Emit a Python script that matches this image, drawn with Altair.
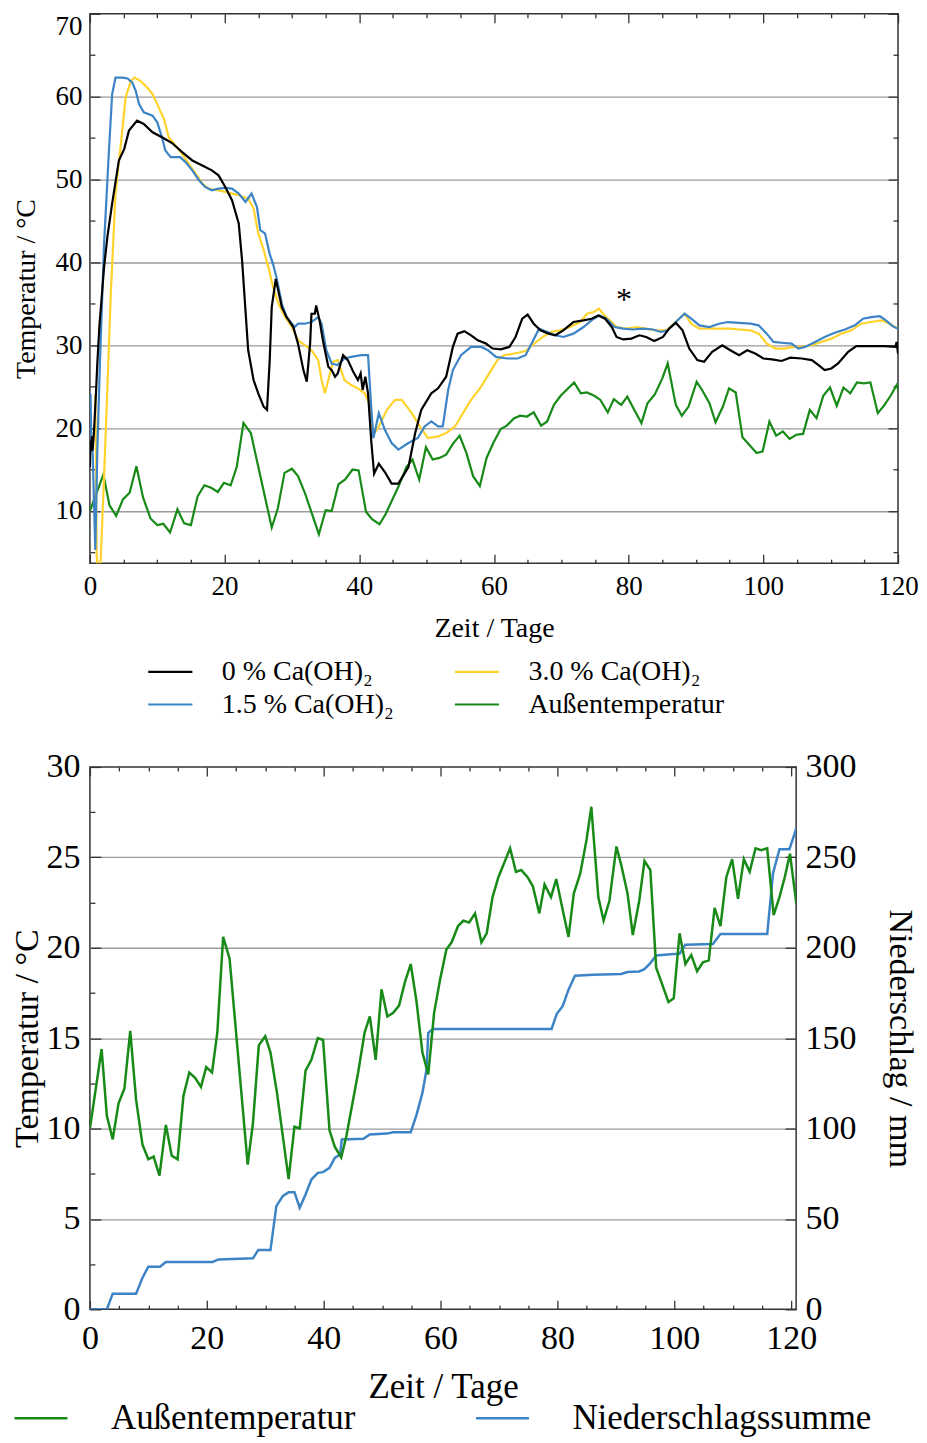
import altair as alt
import pandas as pd

FONT = "Liberation Serif"

# ---------------- data: top panel (temperatures in the piles) ----------------
k_day = [0.0, 0.1, 0.2, 0.3, 0.4, 0.6, 0.9, 1.1, 1.4, 2.1, 2.6, 3.3, 4.3, 5.1, 5.8, 7.0, 8.0, 9.3, 10.7, 12.2,
         13.7, 15.2, 16.7, 18.1, 19.1, 20.1, 21.1, 22.1, 22.6, 23.1, 23.5, 24.3, 25.0, 25.8, 26.3, 26.7, 27.0,
         27.6, 28.5, 29.2, 30.2, 30.9, 31.7, 32.2, 32.7, 32.9, 33.4, 33.6, 34.1, 34.6, 35.4, 35.9, 36.4, 36.8,
         37.6, 38.3, 39.1, 39.8, 40.2, 40.5, 40.9, 41.3, 41.8, 42.2, 42.9, 43.8, 44.8, 45.8, 47.3, 48.3, 49.2,
         50.7, 51.7, 52.9, 53.9, 54.6, 55.6, 56.6, 57.6, 58.8, 59.8, 61.0, 62.3, 63.2, 64.2, 65.0, 65.9, 66.9,
         68.1, 69.1, 70.3, 71.8, 73.3, 74.5, 75.5, 76.5, 77.5, 78.2, 79.2, 80.4, 81.6, 82.6, 83.8, 85.1, 86.0,
         87.0, 88.0, 89.0, 90.2, 91.2, 92.4, 93.9, 95.1, 96.4, 97.6, 98.8, 100.0, 101.3, 102.7, 104.0, 105.7,
         107.2, 108.2, 109.1, 110.1, 111.1, 112.6, 113.8, 115.0, 116.5, 118.0, 119.6, 119.8, 120.0]
k_val = [15.3, 18.5, 17.2, 19.0, 17.3, 19.5, 24.2, 27.8, 32.2, 39.4, 43.1, 47.1, 52.3, 53.7, 55.9, 57.1, 56.7,
         55.7, 55.1, 54.4, 53.3, 52.3, 51.7, 51.1, 50.5, 49.1, 47.5, 44.7, 40.2, 34.2, 29.4, 25.8, 24.2, 22.6,
         22.2, 28.2, 34.6, 38.0, 34.6, 33.4, 32.2, 30.2, 27.0, 25.6, 30.2, 33.8, 33.8, 34.8, 33.0, 30.6, 27.4,
         27.0, 26.2, 26.6, 28.8, 28.2, 26.8, 25.8, 26.6, 24.6, 26.2, 24.2, 18.2, 14.5, 15.7, 14.7, 13.3, 13.3,
         15.3, 19.4, 22.2, 24.2, 24.8, 26.2, 29.8, 31.4, 31.7, 31.2, 30.6, 30.2, 29.6, 29.5, 29.8, 31.0, 33.2,
         33.7, 32.6, 31.8, 31.4, 31.2, 31.8, 32.8, 33.0, 33.2, 33.6, 33.2, 32.2, 31.0, 30.7, 30.8, 31.2, 31.0,
         30.5, 31.0, 32.0, 32.7, 31.8, 29.6, 28.2, 28.0, 29.2, 30.0, 29.4, 28.8, 29.4, 29.0, 28.4, 28.3, 28.1,
         28.5, 28.4, 28.2, 27.6, 27.0, 27.2, 27.8, 29.2, 29.9, 29.9, 29.9, 29.9, 29.8, 30.4, 29.0]

b_day = [0.0, 0.1, 0.2, 0.4, 0.8, 1.1, 1.5, 2.1, 2.8, 3.3, 3.8, 4.8, 5.6, 6.3, 6.8, 7.3, 8.0, 9.3, 10.0, 10.7,
         11.2, 12.0, 13.4, 14.2, 15.2, 16.2, 17.1, 18.1, 19.1, 20.1, 21.1, 22.1, 23.1, 24.0, 24.8, 25.3, 26.0,
         26.7, 27.2, 27.7, 28.5, 29.2, 30.0, 30.4, 30.9, 31.9, 32.9, 33.9, 34.4, 35.1, 35.9, 36.8, 37.8, 38.8,
         40.3, 41.3, 41.8, 42.1, 42.9, 43.8, 44.8, 45.8, 47.3, 48.7, 49.7, 50.7, 51.7, 52.4, 53.2, 53.9, 55.1,
         56.6, 58.1, 59.1, 60.3, 62.0, 63.5, 64.7, 65.7, 66.7, 67.9, 69.1, 70.3, 71.8, 73.3, 74.8, 75.7, 76.7,
         77.9, 79.2, 80.6, 82.1, 83.6, 84.8, 85.8, 87.0, 88.3, 89.3, 90.5, 92.0, 93.4, 94.7, 96.4, 98.1, 99.3,
         100.5, 101.5, 102.7, 104.2, 105.2, 106.2, 107.7, 109.1, 110.6, 112.1, 113.6, 114.8, 116.0, 117.3,
         118.2, 119.2, 120.0]
b_val = [24.0, 24.0, 18.0, 17.3, 5.3, 17.3, 28.2, 42.2, 53.1, 60.3, 62.3, 62.3, 62.2, 61.7, 60.7, 59.1, 58.1,
         57.7, 56.9, 55.1, 53.5, 52.7, 52.7, 52.1, 51.1, 49.9, 49.1, 48.7, 48.9, 49.0, 48.9, 48.3, 47.3, 48.3,
         46.7, 43.9, 43.5, 41.0, 39.8, 38.2, 35.0, 33.4, 32.6, 32.2, 32.6, 32.6, 32.8, 33.4, 32.6, 29.4, 27.8,
         27.6, 28.4, 28.6, 28.8, 28.8, 22.2, 18.8, 21.8, 19.8, 18.2, 17.4, 18.2, 18.8, 20.2, 20.8, 20.2, 20.2,
         24.6, 27.0, 28.8, 29.8, 29.8, 29.4, 28.6, 28.4, 28.4, 28.8, 30.4, 32.0, 31.6, 31.2, 31.0, 31.4, 32.2,
         33.2, 33.6, 33.2, 32.2, 32.0, 31.9, 32.0, 31.9, 31.6, 31.8, 32.8, 33.8, 33.2, 32.4, 32.2, 32.6, 32.8,
         32.7, 32.6, 32.4, 31.4, 30.4, 30.3, 30.2, 29.6, 29.8, 30.4, 31.0, 31.5, 31.9, 32.4, 33.2, 33.4, 33.5,
         33.0, 32.3, 32.0]

y_day = [0.8, 0.9, 1.0, 1.2, 1.6, 2.1, 2.6, 3.1, 3.8, 4.6, 5.3, 6.1, 6.6, 7.5, 8.5, 9.3, 10.0, 11.0, 11.7, 12.7,
         13.7, 14.7, 15.7, 16.7, 17.6, 18.9, 20.1, 21.1, 22.1, 23.5, 24.3, 25.0, 25.8, 26.5, 27.2, 28.0, 29.0,
         30.0, 30.9, 31.9, 32.9, 33.9, 34.4, 34.9, 35.4, 36.1, 36.8, 37.8, 38.8, 39.8, 40.8, 41.5, 42.1, 42.9,
         44.1, 45.3, 46.3, 47.8, 49.0, 50.2, 51.7, 52.9, 54.2, 55.4, 56.6, 58.1, 59.3, 60.5, 61.5, 63.0, 64.7,
         65.7, 66.9, 68.4, 69.8, 71.3, 72.8, 73.8, 74.8, 75.6, 76.2, 77.2, 78.2, 79.7, 81.2, 82.6, 84.1, 85.6,
         87.0, 88.3, 89.3, 90.5, 92.0, 93.4, 94.9, 96.4, 98.1, 99.3, 100.5, 101.8, 103.2, 104.4, 105.7, 107.2,
         108.6, 110.1, 111.6, 113.1, 114.5, 116.0, 117.5, 118.5, 119.5, 120.0]
y_val = [24.0, 17.5, 5.0, 2.0, 4.1, 14.1, 25.0, 36.2, 48.3, 54.3, 59.9, 61.9, 62.3, 61.9, 61.1, 60.3, 59.1,
         57.3, 55.1, 54.1, 53.1, 51.9, 50.7, 49.5, 48.9, 48.7, 48.5, 48.3, 48.1, 47.7, 46.5, 43.5, 41.5, 39.4,
         37.0, 35.0, 33.4, 32.2, 30.6, 30.0, 29.4, 28.2, 25.8, 24.2, 25.8, 28.0, 28.2, 25.8, 25.2, 24.8, 24.2,
         23.0, 19.2, 20.2, 22.2, 23.4, 23.4, 21.8, 20.2, 18.8, 19.0, 19.4, 20.2, 21.8, 23.4, 25.0, 26.6, 28.2,
         28.8, 29.0, 29.3, 30.0, 30.8, 31.6, 31.8, 32.2, 32.8, 33.8, 34.0, 34.4, 33.8, 33.0, 32.2, 32.0, 32.2,
         32.0, 31.8, 31.8, 32.8, 33.8, 32.6, 32.0, 32.0, 32.0, 32.0, 31.9, 31.8, 31.4, 30.2, 29.6, 29.6, 29.8,
         29.8, 30.0, 30.4, 30.8, 31.4, 31.8, 32.6, 32.8, 33.0, 32.7, 32.2, 32.0]

# ---------------- data: outside temperature and cumulative precipitation ----------------
out_day = [0.0, 2.0, 2.9, 3.9, 4.9, 5.9, 6.9, 7.9, 9.0, 10.0, 10.9, 11.9, 13.0, 14.0, 15.0, 16.0, 17.0, 18.0,
           19.0, 19.9, 20.9, 21.8, 22.8, 23.9, 27.0, 27.9, 28.9, 30.0, 30.9, 32.0, 34.0, 35.0, 35.9, 36.9, 37.9,
           39.0, 39.9, 41.0, 41.9, 43.0, 43.9, 45.9, 47.0, 47.9, 48.9, 49.9, 50.9, 51.9, 52.9, 53.9, 54.9, 55.9,
           56.9, 57.9, 58.9, 59.9, 61.0, 61.9, 63.0, 63.9, 64.9, 65.9, 67.0, 67.9, 68.9, 69.9, 71.9, 72.9, 73.8,
           74.9, 75.8, 76.9, 77.8, 78.9, 79.8, 80.9, 81.9, 82.8, 83.9, 85.0, 85.8, 87.0, 87.9, 88.9, 90.1, 90.9,
           92.0, 92.9, 94.0, 94.9, 95.9, 96.9, 97.9, 99.0, 99.9, 100.9, 101.9, 102.9, 103.9, 104.9, 105.9, 106.9,
           107.9, 108.9, 109.9, 110.9, 111.9, 112.9, 113.9, 114.9, 115.9, 117.0, 118.0, 118.9, 119.8, 120.9]
out_temp = [10.0, 14.4, 10.7, 9.4, 11.4, 12.2, 15.4, 11.6, 9.1, 8.3, 8.45, 7.4, 10.2, 8.5, 8.3, 11.8, 13.1,
            12.8, 12.3, 13.4, 13.1, 15.3, 20.6, 19.4, 8.0, 10.3, 14.6, 15.1, 14.2, 12.0, 7.2, 10.1, 10.0, 13.2,
            13.8, 15.0, 14.9, 9.9, 9.0, 8.4, 9.6, 13.1, 15.3, 16.2, 13.8, 17.7, 16.2, 16.4, 16.8, 18.1, 19.1,
            17.0, 14.2, 13.0, 16.4, 18.2, 19.9, 20.3, 21.2, 21.5, 21.4, 21.9, 20.3, 20.8, 22.8, 23.9, 25.5, 24.2,
            24.3, 23.9, 23.4, 21.9, 23.5, 22.8, 23.8, 22.1, 20.6, 23.0, 24.1, 26.0, 27.8, 22.8, 21.5, 22.6, 25.6,
            24.6, 23.0, 20.7, 22.6, 24.8, 24.3, 18.9, 18.0, 17.0, 17.2, 20.8, 19.1, 19.6, 18.7, 19.2, 19.3, 22.2,
            21.2, 23.9, 24.9, 22.7, 24.9, 24.2, 25.5, 25.4, 25.5, 21.8, 22.8, 23.9, 25.2, 22.4]

rain_day = [0.0, 2.9, 3.9, 7.9, 9.0, 10.0, 12.0, 13.0, 21.0, 22.0, 27.9, 28.8, 30.9, 31.9, 33.0, 34.0, 35.0,
            35.9, 36.9, 37.9, 39.0, 39.9, 41.0, 41.9, 42.8, 43.1, 46.8, 47.9, 50.8, 51.9, 54.9, 55.9, 56.9, 57.6,
            57.9, 58.7, 79.0, 79.9, 80.9, 81.9, 83.0, 86.1, 90.9, 92.0, 94.0, 94.9, 95.9, 96.9, 99.9, 100.9,
            101.9, 106.6, 107.9, 115.9, 116.9, 118.0, 119.7, 120.9]
rain_sum = [0.0, 0.0, 8.7, 8.7, 17.5, 23.6, 23.6, 26.2, 26.2, 27.6, 28.2, 32.8, 32.8, 57.1, 62.6, 64.8, 64.8,
            56.2, 63.5, 71.8, 75.5, 75.9, 78.3, 83.8, 85.6, 93.9, 94.3, 96.7, 97.2, 98.0, 98.0, 107.7, 119.7,
            132.6, 152.9, 155.1, 155.1, 163.5, 167.7, 176.8, 184.5, 185.1, 185.5, 186.6, 186.9, 188.2, 191.5,
            195.7, 196.5, 196.7, 201.7, 202.1, 207.6, 207.6, 241.3, 254.5, 254.5, 266.1]

star_day = [79.3]
star_temp = [35.4]
star_text = ["*"]

S0 = "0 % Ca(OH)₂"
S15 = "1.5 % Ca(OH)₂"
S30 = "3.0 % Ca(OH)₂"
SA = "Außentemperatur"
SN = "Niederschlagssumme"
top_names = [S0, S15, S30, SA]           # legend order (filled column by column, 2 columns)
top_colors = ["#000000", "#3D84C6", "#FFD32B", "#178A17"]
bot_names = [SA, SN]
bot_colors = ["#178A17", "#3D84C6"]


def frame(days, vals, name):
    return pd.DataFrame({"day": days, "temp": vals, "series": name})


top_df = pd.concat([frame(out_day, out_temp, SA), frame(y_day, y_val, S30),
                    frame(b_day, b_val, S15), frame(k_day, k_val, S0)], ignore_index=True)
star_df = pd.DataFrame({"day": star_day, "temp": star_temp, "label": star_text})
green_df = frame(out_day, out_temp, SA)
rain_df = pd.DataFrame({"day": rain_day, "mm": rain_sum, "series": SN})


def A(orient, values, size, off=None, **kw):
    d = dict(orient=orient, values=values, tickSize=size, offset=-(size if off is None else off),
             domain=False, labels=False, grid=False, title=None, ticks=True, tickColor="#333333",
             tickWidth=1.3, labelFlush=False)
    d.update(kw)
    return alt.Axis(**d)


def guide(df, xf, yf, xs, ys, xaxis, yaxis):
    return alt.Chart(df).mark_point(opacity=0, size=1).encode(
        x=alt.X(xf, type="quantitative", scale=xs, axis=xaxis),
        y=alt.Y(yf, type="quantitative", scale=ys, axis=yaxis),
    )


lab = dict(labelFont=FONT, labelColor="black", titleFont=FONT, titleColor="black",
           titleFontWeight="normal")

# ---------------- top panel ----------------
TW, TH = 809, 550
xs_t = alt.Scale(domain=[0, 120], nice=False, zero=False)
ys_t = alt.Scale(domain=[3.7, 70], nice=False, zero=False)
ax_t = pd.DataFrame({"day": [0, 120], "temp": [10, 60]})
x_maj = list(range(0, 121, 20))
x_min = [v for v in range(0, 121, 5) if v % 20]
yt_maj = list(range(10, 71, 10))
yt_min = list(range(5, 70, 10))

t_grid = guide(ax_t, "day", "temp", xs_t, ys_t, None,
               alt.Axis(orient="left", values=list(range(10, 61, 10)), grid=True, ticks=False,
                        labels=False, domain=False, title=None, gridColor="#9a9a9a", gridWidth=1.3))
t_g1 = guide(ax_t, "day", "temp", xs_t, ys_t,
             A("bottom", x_maj, 9, labels=True, labelFontSize=27, labelPadding=10,
               title="Zeit / Tage", titleFontSize=28, titlePadding=15, **lab),
             A("left", yt_maj, 10, labels=True, labelFontSize=27, labelPadding=8, labelFlush=True,
               title="Temperatur / °C", titleFontSize=28, titlePadding=14, **lab))
t_g2 = guide(ax_t, "day", "temp", xs_t, ys_t, A("bottom", x_min, 4), A("left", yt_min, 5))
# ticks along the top and right edges: bottom/left axes shifted across the plot
t_g3 = guide(ax_t, "day", "temp", xs_t, ys_t, A("bottom", x_maj, 9, off=TH), A("left", yt_maj, 10, off=TW))
t_g4 = guide(ax_t, "day", "temp", xs_t, ys_t, A("bottom", x_min, 4, off=TH), A("left", yt_min, 5, off=TW))

t_lines = alt.Chart(top_df).mark_line(clip=True, strokeWidth=2.2).encode(
    x=alt.X("day:Q", scale=xs_t, axis=None),
    y=alt.Y("temp:Q", scale=ys_t, axis=None),
    color=alt.Color("series:N", scale=alt.Scale(domain=top_names, range=top_colors),
                    legend=alt.Legend(title=None, orient="none", legendX=62, legendY=640, columns=2,
                                      symbolType="M-1.3,0H1.3", symbolSize=1156, symbolStrokeWidth=2.2,
                                      labelFont=FONT, labelFontSize=28, labelColor="black",
                                      labelOffset=33, columnPadding=56, rowPadding=0, labelLimit=500)),
)
t_star = alt.Chart(star_df).mark_text(font=FONT, fontSize=32, color="black").encode(
    x=alt.X("day:Q", scale=xs_t, axis=None),
    y=alt.Y("temp:Q", scale=ys_t, axis=None),
    text="label:N",
)

top = alt.layer(t_grid, t_g1, t_g2, t_g3, t_g4, t_lines, t_star).resolve_axis(
    x="independent", y="independent").properties(width=TW, height=TH)

# ---------------- bottom panel ----------------
BW, BH = 707, 543
xs_b = alt.Scale(domain=[0, 120.85], nice=False, zero=False)
yT = alt.Scale(domain=[0, 30], nice=False, zero=False)
yP = alt.Scale(domain=[0, 300], nice=False, zero=False)
ax_b = pd.DataFrame({"day": [0, 120], "temp": [5, 25], "mm": [50, 250]})
yb_maj = list(range(0, 31, 5))
yb_min = [2.5, 7.5, 12.5, 17.5, 22.5, 27.5]

b_g1 = guide(ax_b, "day", "temp", xs_b, yT,
             A("bottom", x_maj, 9, labels=True, labelFontSize=34, labelPadding=12,
               title="Zeit / Tage", titleFontSize=35, titlePadding=14, **lab),
             A("left", yb_maj, 11, labels=True, labelFontSize=34, labelPadding=10,
               title="Temperatur / °C", titleFontSize=34, titlePadding=1, **lab))
b_g2 = guide(ax_b, "day", "temp", xs_b, yT, A("bottom", x_min, 4), A("left", yb_min, 5))
b_g3 = guide(ax_b, "day", "mm", xs_b, yP, A("bottom", x_maj, 9, off=BH),
             A("right", list(range(0, 301, 50)), 11, labels=True, labelFontSize=34, labelPadding=9,
               title="Niederschlag / mm", titleFontSize=34, titlePadding=26, **lab))
b_g4 = guide(ax_b, "day", "temp", xs_b, yT, A("bottom", x_min, 4, off=BH),
             alt.Axis(orient="left", values=[5, 10, 15, 20, 25], grid=True, ticks=False,
                      labels=False, domain=False, title=None, gridColor="#9a9a9a", gridWidth=1.3))

bot_color = alt.Color("series:N", scale=alt.Scale(domain=bot_names, range=bot_colors),
                      legend=alt.Legend(title=None, orient="none", legendX=-68, legendY=633, columns=2,
                                        symbolType="M-1.5,0H1.5", symbolSize=1250, symbolStrokeWidth=2.5,
                                        labelFont=FONT, labelFontSize=35, labelColor="black",
                                        labelOffset=51, columnPadding=115, rowPadding=0, labelLimit=600))
b_green = alt.Chart(green_df).mark_line(clip=True, strokeWidth=2.5).encode(
    x=alt.X("day:Q", scale=xs_b, axis=None),
    y=alt.Y("temp:Q", scale=yT, axis=None),
    color=bot_color,
)
b_rain = alt.Chart(rain_df).mark_line(clip=True, strokeWidth=2.5).encode(
    x=alt.X("day:Q", scale=xs_b, axis=None),
    y=alt.Y("mm:Q", scale=yP, axis=None),
    color=bot_color,
)

bottom = alt.layer(b_g4, b_g1, b_g2, b_g3, b_rain, b_green).resolve_scale(
    y="independent").resolve_axis(x="independent", y="independent").properties(width=BW, height=BH)

chart = alt.vconcat(top, bottom, spacing=29).resolve_scale(color="independent").resolve_legend(
    color="independent").configure_view(stroke="#333333", strokeWidth=1.5).properties(
    padding={"left": 2, "top": 3, "right": 0, "bottom": 0})

chart.save("out.html", embed_options={"renderer": "svg", "actions": False})
